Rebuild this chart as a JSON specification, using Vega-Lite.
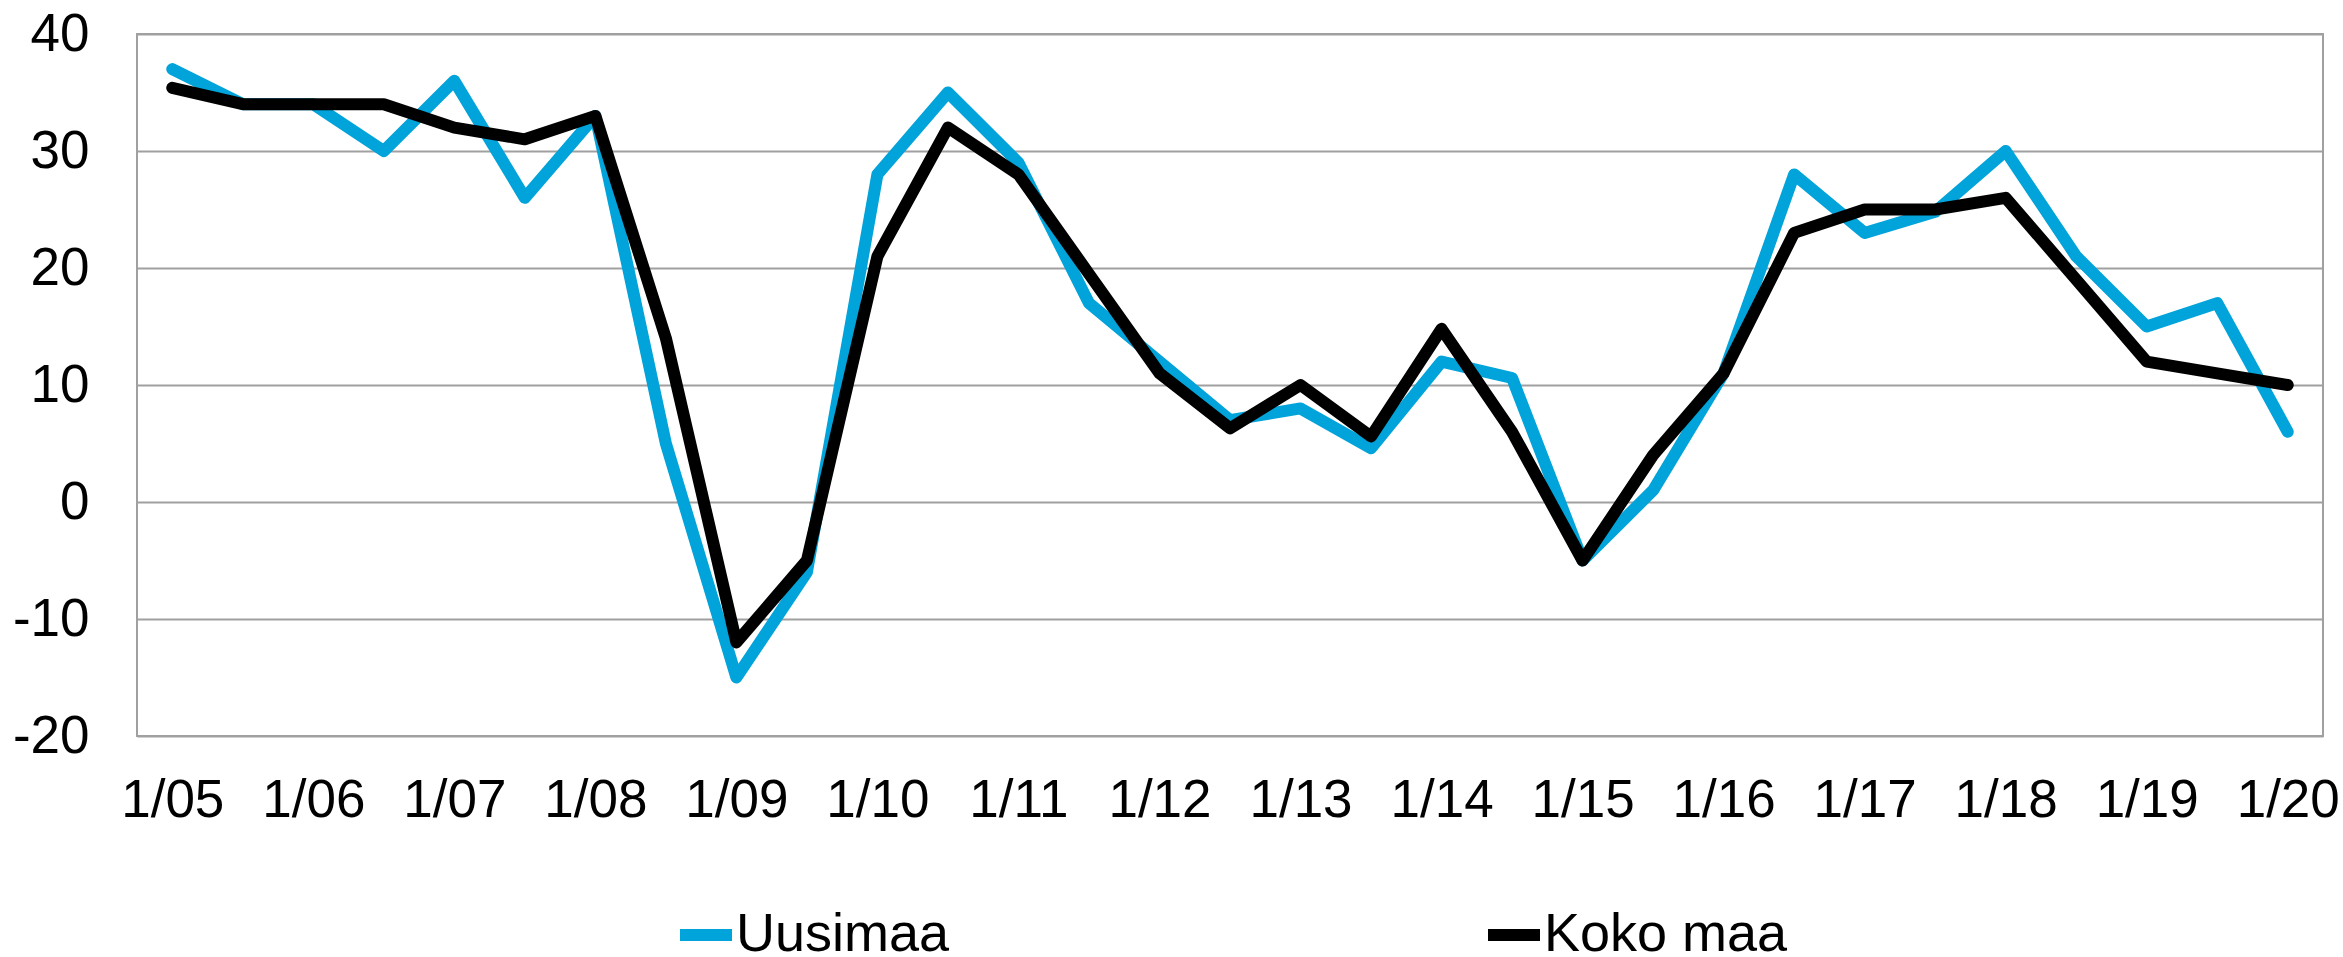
{
  "$schema": "https://vega.github.io/schema/vega-lite/v6.json",
  "width": 2186,
  "height": 702,
  "autosize": {"type": "none"},
  "padding": {"left": 137, "top": 34, "right": 20, "bottom": 221},
  "background": "white",
  "config": {
    "view": {"stroke": "#A0A0A0", "strokeWidth": 2},
    "font": "Liberation Sans"
  },
  "data": {
    "values": [
      {"date": "1/05", "series": "Uusimaa", "value": 37},
      {"date": "7/05", "series": "Uusimaa", "value": 34},
      {"date": "1/06", "series": "Uusimaa", "value": 34},
      {"date": "7/06", "series": "Uusimaa", "value": 30},
      {"date": "1/07", "series": "Uusimaa", "value": 36},
      {"date": "7/07", "series": "Uusimaa", "value": 26},
      {"date": "1/08", "series": "Uusimaa", "value": 33},
      {"date": "7/08", "series": "Uusimaa", "value": 5},
      {"date": "1/09", "series": "Uusimaa", "value": -15},
      {"date": "7/09", "series": "Uusimaa", "value": -6},
      {"date": "1/10", "series": "Uusimaa", "value": 28},
      {"date": "7/10", "series": "Uusimaa", "value": 35},
      {"date": "1/11", "series": "Uusimaa", "value": 29},
      {"date": "7/11", "series": "Uusimaa", "value": 17},
      {"date": "1/12", "series": "Uusimaa", "value": 12},
      {"date": "7/12", "series": "Uusimaa", "value": 7},
      {"date": "1/13", "series": "Uusimaa", "value": 8},
      {"date": "7/13", "series": "Uusimaa", "value": 4.6},
      {"date": "1/14", "series": "Uusimaa", "value": 12},
      {"date": "7/14", "series": "Uusimaa", "value": 10.6},
      {"date": "1/15", "series": "Uusimaa", "value": -5},
      {"date": "7/15", "series": "Uusimaa", "value": 1},
      {"date": "1/16", "series": "Uusimaa", "value": 11},
      {"date": "7/16", "series": "Uusimaa", "value": 28},
      {"date": "1/17", "series": "Uusimaa", "value": 23},
      {"date": "7/17", "series": "Uusimaa", "value": 24.8},
      {"date": "1/18", "series": "Uusimaa", "value": 30},
      {"date": "7/18", "series": "Uusimaa", "value": 21},
      {"date": "1/19", "series": "Uusimaa", "value": 15},
      {"date": "7/19", "series": "Uusimaa", "value": 17},
      {"date": "1/20", "series": "Uusimaa", "value": 6},
      {"date": "1/05", "series": "Koko maa", "value": 35.4},
      {"date": "7/05", "series": "Koko maa", "value": 34},
      {"date": "1/06", "series": "Koko maa", "value": 34},
      {"date": "7/06", "series": "Koko maa", "value": 34},
      {"date": "1/07", "series": "Koko maa", "value": 32},
      {"date": "7/07", "series": "Koko maa", "value": 31},
      {"date": "1/08", "series": "Koko maa", "value": 33},
      {"date": "7/08", "series": "Koko maa", "value": 14},
      {"date": "1/09", "series": "Koko maa", "value": -12},
      {"date": "7/09", "series": "Koko maa", "value": -5},
      {"date": "1/10", "series": "Koko maa", "value": 21},
      {"date": "7/10", "series": "Koko maa", "value": 32},
      {"date": "1/11", "series": "Koko maa", "value": 28},
      {"date": "7/11", "series": "Koko maa", "value": 19.5},
      {"date": "1/12", "series": "Koko maa", "value": 11},
      {"date": "7/12", "series": "Koko maa", "value": 6.3},
      {"date": "1/13", "series": "Koko maa", "value": 10},
      {"date": "7/13", "series": "Koko maa", "value": 5.6},
      {"date": "1/14", "series": "Koko maa", "value": 14.8},
      {"date": "7/14", "series": "Koko maa", "value": 6},
      {"date": "1/15", "series": "Koko maa", "value": -5},
      {"date": "7/15", "series": "Koko maa", "value": 4},
      {"date": "1/16", "series": "Koko maa", "value": 11},
      {"date": "7/16", "series": "Koko maa", "value": 23},
      {"date": "1/17", "series": "Koko maa", "value": 25},
      {"date": "7/17", "series": "Koko maa", "value": 25},
      {"date": "1/18", "series": "Koko maa", "value": 26},
      {"date": "7/18", "series": "Koko maa", "value": 19},
      {"date": "1/19", "series": "Koko maa", "value": 12},
      {"date": "7/19", "series": "Koko maa", "value": 11},
      {"date": "1/20", "series": "Koko maa", "value": 10}
    ]
  },
  "encoding": {
    "x": {
      "field": "date",
      "type": "ordinal",
      "sort": null,
      "scale": {"type": "point", "padding": 0.5},
      "axis": {
        "title": null,
        "labelAngle": 0,
        "ticks": false,
        "tickSize": 0,
        "domain": false,
        "grid": false,
        "labelFontSize": 53,
        "labelColor": "#000000",
        "labelPadding": 38,
        "labelOverlap": false,
        "labelExpr": "substring(datum.value, 0, 2) === '1/' ? datum.value : ''"
      }
    },
    "y": {
      "field": "value",
      "type": "quantitative",
      "scale": {"domain": [-20, 40], "nice": false, "zero": false},
      "axis": {
        "title": null,
        "values": [-20, -10, 0, 10, 20, 30, 40],
        "ticks": false,
        "tickSize": 0,
        "domain": false,
        "grid": true,
        "gridColor": "#A0A0A0",
        "gridWidth": 2,
        "labelFontSize": 53,
        "labelColor": "#000000",
        "labelPadding": 48,
        "labelExpr": "toString(datum.value)"
      }
    },
    "color": {
      "field": "series",
      "type": "nominal",
      "scale": {"domain": ["Uusimaa", "Koko maa"], "range": ["#00A3DA", "#000000"]},
      "legend": {
        "orient": "none",
        "legendX": 537,
        "legendY": 869,
        "direction": "horizontal",
        "title": null,
        "symbolType": "stroke",
        "symbolSize": 2704,
        "symbolStrokeWidth": 12,
        "labelFontSize": 54,
        "labelOffset": -2,
        "labelColor": "#000000",
        "labelLimit": 0,
        "columnPadding": 514,
        "padding": 0
      }
    }
  },
  "layer": [
    {
      "transform": [{"filter": "datum.series === 'Uusimaa'"}],
      "mark": {"type": "line", "strokeWidth": 12, "strokeJoin": "round", "strokeCap": "round"}
    },
    {
      "transform": [{"filter": "datum.series === 'Koko maa'"}],
      "mark": {"type": "line", "strokeWidth": 12, "strokeJoin": "round", "strokeCap": "round"}
    }
  ]
}
